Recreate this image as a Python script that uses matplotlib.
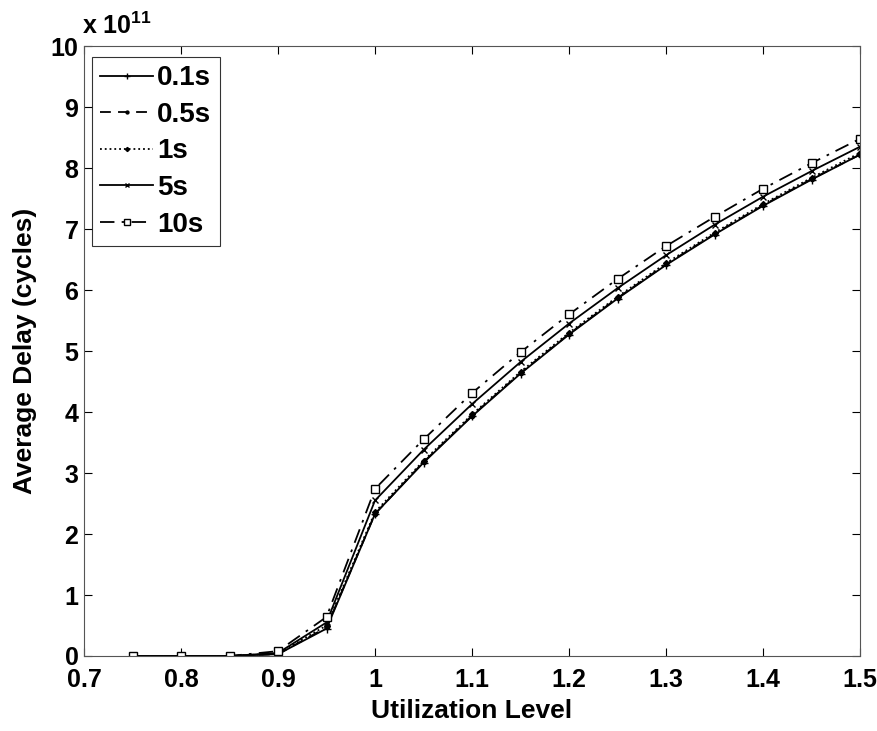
import matplotlib
matplotlib.use("Agg")
import matplotlib.pyplot as plt
import numpy as np

plt.rcParams['font.family'] = ['Liberation Sans', 'DejaVu Sans']
plt.rcParams['font.weight'] = 'bold'
plt.rcParams['mathtext.fontset'] = 'custom'
plt.rcParams['mathtext.bf'] = 'Liberation Sans:bold'
plt.rcParams['mathtext.rm'] = 'Liberation Sans:bold'

utilization = [0.75, 0.8, 0.85, 0.9, 0.95, 1.0, 1.05, 1.1, 1.15, 1.2, 1.25, 1.3, 1.35, 1.4, 1.45, 1.5]

delay_01s = [0, 0, 0, 0.03, 0.45, 2.33, 3.17, 3.93, 4.63, 5.27, 5.86, 6.41, 6.91, 7.38, 7.81, 8.22]
delay_05s = [0, 0, 0, 0.03, 0.47, 2.33, 3.18, 3.94, 4.64, 5.28, 5.87, 6.42, 6.92, 7.39, 7.82, 8.22]
delay_1s  = [0, 0, 0, 0.04, 0.50, 2.36, 3.20, 3.96, 4.66, 5.30, 5.89, 6.44, 6.94, 7.41, 7.84, 8.25]
delay_5s  = [0, 0, 0, 0.05, 0.55, 2.55, 3.38, 4.13, 4.82, 5.45, 6.03, 6.57, 7.07, 7.53, 7.95, 8.35]
delay_10s = [0, 0, 0, 0.08, 0.64, 2.74, 3.55, 4.31, 4.98, 5.60, 6.18, 6.72, 7.20, 7.66, 8.08, 8.48]

labels = ['0.1s', '0.5s', '1s', '5s', '10s']
x_ticks = [0.7, 0.8, 0.9, 1.0, 1.1, 1.2, 1.3, 1.4, 1.5]
x_ticklabels = ['0.7', '0.8', '0.9', '1', '1.1', '1.2', '1.3', '1.4', '1.5']
y_ticks = list(range(0, 11))

scale = 1e11
series = [delay_01s, delay_05s, delay_1s, delay_5s, delay_10s]
styles = [
    dict(linestyle='-', marker='+', markersize=6),
    dict(linestyle=(0, (6, 4)), marker='.', markersize=6),
    dict(linestyle=':', marker='D', markersize=3),
    dict(linestyle='-', marker='x', markersize=4),
    dict(linestyle=(0, (8, 4, 1.5, 4)), marker='s', markersize=5.5, markerfacecolor='white'),
]

fig = plt.figure(figsize=(8.78, 7.31), dpi=100)
ax = fig.add_axes([0.0957, 0.1026, 0.8838, 0.8344])

for vals, lab, st in zip(series, labels, styles):
    ax.plot(utilization, np.array(vals) * scale, color='black', linewidth=1.3,
            label=lab, **st)

ax.set_xlim(0.7, 1.5)
ax.set_ylim(0, 10 * scale)
ax.set_xticks(x_ticks)
ax.set_xticklabels(x_ticklabels)
ax.set_yticks([v * scale for v in y_ticks])
ax.set_yticklabels([str(v) for v in y_ticks])
ax.tick_params(direction='in', top=True, right=True, labelsize=18, length=6)
ax.tick_params(axis='x', pad=9)
ax.tick_params(axis='y', pad=4)
for s in ax.spines.values():
    s.set_linewidth(0.8)
    s.set_color('#555555')

ax.set_xlabel('Utilization Level', fontsize=19, fontweight='bold', labelpad=5)
ax.set_ylabel('Average Delay (cycles)', fontsize=19, fontweight='bold', labelpad=10)
ax.text(-0.003, 1.012, r'x 10$^{\mathbf{11}}$', transform=ax.transAxes, fontsize=18,
        fontweight='bold', va='bottom', ha='left')

leg = ax.legend(loc='upper left', bbox_to_anchor=(0.0103, 0.982), borderaxespad=0,
                fontsize=20, frameon=True, fancybox=False, markerscale=0.7,
                edgecolor='black', handlelength=1.9, borderpad=0.3,
                labelspacing=0.38, handletextpad=0.15)
leg.get_frame().set_linewidth(0.8)
for t in leg.get_texts():
    t.set_fontweight('bold')

fig.savefig('out.png', dpi=100)
